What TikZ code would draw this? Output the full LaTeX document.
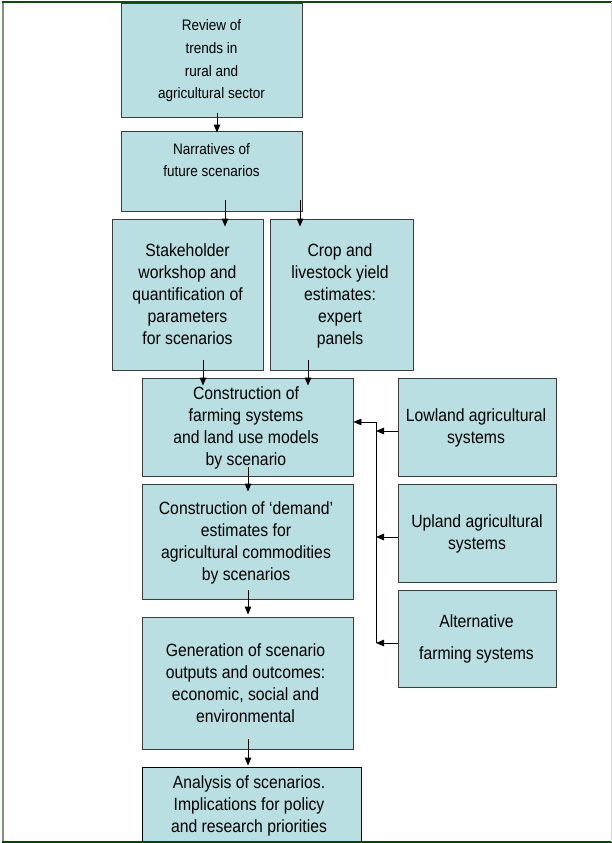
\documentclass[tikz,border=0pt]{standalone}
\usepackage{fontspec}
\setmainfont{Liberation Sans}[FakeStretch=0.89]
\usetikzlibrary{arrows.meta}
\definecolor{boxfill}{HTML}{B9DFE2}
\definecolor{boxline}{HTML}{3C3C3C}
\definecolor{framegreen}{HTML}{0E4A12}
\definecolor{frameleft}{HTML}{7D987D}
\tikzset{
  box/.style={draw=boxline, fill=boxfill, line width=0.9pt, inner sep=0pt, rectangle},
  txt/.style={align=center, inner sep=0pt, font=\fontsize{17.7}{22}\selectfont},
  smalltxt/.style={align=center, inner sep=0pt, font=\fontsize{15.2}{22.7}\selectfont},
  arr/.style={line width=0.9pt, -{Triangle[length=8pt,width=6.5pt]}},
  conn/.style={line width=0.9pt}
}
\begin{document}
\begin{tikzpicture}[x=1pt, y=-1pt]
\useasboundingbox (0,0) rectangle (612,843);
\fill[white] (0,0) rectangle (612,843);
% boxes
\node[box, minimum width=181pt, minimum height=114pt] (b1) at (211.5,60) {};
\node[box, minimum width=181pt, minimum height=80pt] (b2) at (211.5,171) {};
\node[box, minimum width=151pt, minimum height=151pt] (b3) at (187.5,294.5) {};
\node[box, minimum width=143pt, minimum height=151pt] (b4) at (341.5,294.5) {};
\node[box, minimum width=211pt, minimum height=98pt] (b5) at (247.5,427) {};
\node[box, minimum width=211pt, minimum height=115pt] (b6) at (247.5,541.5) {};
\node[box, minimum width=211pt, minimum height=132pt] (b7) at (247.5,683) {};
\node[box, draw=black, minimum width=219pt, minimum height=78pt] (b8) at (251.5,806) {};
\node[box, minimum width=158pt, minimum height=98pt] (low) at (477,427) {};
\node[box, minimum width=158pt, minimum height=98pt] (up) at (477,533) {};
\node[box, minimum width=158pt, minimum height=97pt] (alt) at (477,638.5) {};
% texts
\node[smalltxt] (t1) at (211.5,61) {Review of\\trends in\\rural and\\agricultural sector};
\node[smalltxt] (t2) at (211.5,160) {Narratives of\\future scenarios};
\node[txt] (t3) at (187.5,294) {Stakeholder\\workshop and\\quantification of\\parameters\\for scenarios};
\node[txt] (t4) at (340,295.8) {Crop and\\livestock yield\\estimates:\\expert\\panels};
\node[txt] (t5) at (246,428.3) {Construction of\\farming systems\\and land use models\\by scenario};
\node[txt] (t6) at (246,543.3) {Construction of ‘demand’\\estimates for\\agricultural commodities\\by scenarios};
\node[txt] (t7) at (245.5,682.7) {Generation of scenario\\outputs and outcomes:\\economic, social and\\environmental};
\node[txt] (t8) at (249,806.3) {Analysis of scenarios.\\Implications for policy\\and research priorities};
\node[txt] (tl) at (476,427.9) {Lowland agricultural\\systems};
\node[txt] (tu) at (477,534) {Upland agricultural\\systems};
\node[txt, font=\fontsize{17.7}{32}\selectfont] (ta) at (476.5,639) {Alternative\\farming systems};
% vertical arrows
\draw[arr, shorten <=-4pt, shorten >=-2pt] ([xshift=5.5pt]b1.south) -- ([xshift=5.5pt]b2.north);
\draw[arr, shorten <=-11pt, shorten >=-8pt] (b2.south -| 225,0) -- (b3.north -| 225,0);
\draw[arr, shorten <=-11pt, shorten >=-8pt] (b2.south -| 300,0) -- (b4.north -| 300,0);
\draw[arr, shorten <=-10pt, shorten >=-8pt] (b3.south -| 203,0) -- (b5.north -| 203,0);
\draw[arr, shorten <=-10pt, shorten >=-8pt] (b4.south -| 308,0) -- (b5.north -| 308,0);
\draw[arr, shorten <=-9pt, shorten >=-8pt] (b5.south -| 248,0) -- (b6.north -| 248,0);
\draw[arr, shorten <=-9pt, shorten >=2pt] (b6.south -| 248,0) -- (b7.north -| 248,0);
\draw[arr, shorten <=-10pt, shorten >=1pt] (b7.south -| 248,0) -- (b8.north -| 248,0);
% side bus
\coordinate (bustop) at (376,422);
\coordinate (busbot) at (376,643);
\coordinate (bl) at (376,431);
\coordinate (bu) at (376,537);
\draw[conn] (bustop) -- (busbot);
\draw[arr] (low.west |- bl) -- (bl);
\draw[arr] (up.west |- bu) -- (bu);
\draw[arr] (alt.west |- busbot) -- (busbot);
\draw[arr] (bustop) -- (b5.east |- bustop);
% frame
\draw[frameleft, line width=2.5pt] (3,2) -- (3,842);
\draw[framegreen, line width=2pt] (2,2) -- (612,2);
\draw[framegreen!80!green!60!black, line width=2pt] (2,842) -- (612,842);
\draw[gray!30, line width=1pt] (611.5,2) -- (611.5,842);
\end{tikzpicture}
\end{document}
